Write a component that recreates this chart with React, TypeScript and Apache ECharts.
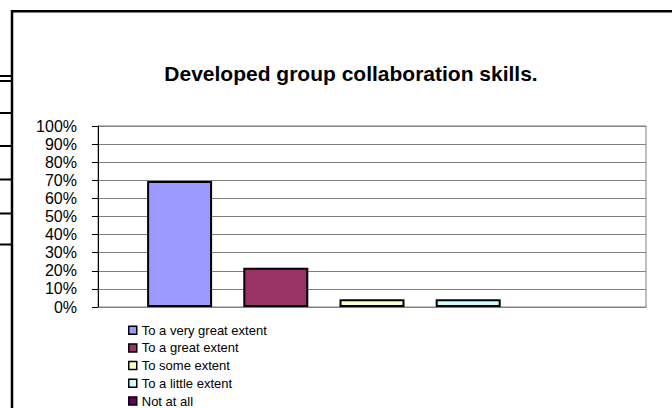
import React, { useEffect, useRef } from "react";
import * as echarts from "echarts";

const titleText = "Developed group collaboration skills.";
const seriesNames = [
  "To a very great extent",
  "To a great extent",
  "To some extent",
  "To a little extent",
  "Not at all",
];
const seriesValues = [69.6, 21.7, 4.3, 4.3, 0];
const seriesColors = ["#9999FF", "#993366", "#FFFFCC", "#CCFFFF", "#660066"];
const categories = ["Developed group collaboration skills"];
const stubYs = [76, 81, 113, 146, 179.5, 213.5, 244.5];

const FONT = 'Arial, "Liberation Sans", sans-serif';

export default function App() {
  const ref = useRef<HTMLDivElement>(null);
  useEffect(() => {
    document.body.style.margin = "0";
    const chart = echarts.init(ref.current!, null, { renderer: "svg" });
    const frame: any[] = [
      {
        type: "line",
        shape: { x1: 11, y1: 11.2, x2: 672, y2: 11.2 },
        style: { stroke: "#000", lineWidth: 2.5 },
      },
      {
        type: "line",
        shape: { x1: 12, y1: 10, x2: 12, y2: 408 },
        style: { stroke: "#000", lineWidth: 2.5 },
      },
      ...stubYs.map((y) => ({
        type: "line",
        shape: { x1: 0, y1: y, x2: 12, y2: y },
        style: { stroke: "#000", lineWidth: 2 },
      })),
      {
        type: "text",
        x: 351,
        y: 73,
        style: {
          text: titleText,
          font: `bold 21px ${FONT}`,
          fill: "#000",
          align: "center",
          verticalAlign: "middle",
        },
      },
    ];
    chart.setOption({
      animation: false,
      backgroundColor: "#fff",
      graphic: frame,
      grid: {
        left: 98,
        top: 126,
        right: 26,
        bottom: 101,
        show: true,
        borderColor: "#808080",
        borderWidth: 1,
        containLabel: false,
      },
      legend: {
        orient: "vertical",
        left: 128,
        top: 323.2,
        height: 150,
        padding: 0,
        itemWidth: 8,
        itemHeight: 8,
        itemGap: 3.7,
        itemTextGap: 1,
        icon: "rect",
        data: seriesNames,
        itemStyle: { borderColor: "#000", borderWidth: 1.5 },
        textStyle: { fontFamily: FONT, fontSize: 13, color: "#000", lineHeight: 14 },
      },
      xAxis: {
        type: "category",
        data: categories,
        axisLabel: { show: false },
        axisTick: { show: false },
        axisLine: { show: true, lineStyle: { color: "#808080", width: 1 } },
        splitLine: { show: false },
      },
      yAxis: {
        type: "value",
        min: 0,
        max: 100,
        interval: 10,
        axisLine: { show: true, lineStyle: { color: "#000", width: 1 } },
        axisTick: { show: true, length: 6, lineStyle: { color: "#000" } },
        axisLabel: {
          formatter: "{value}%",
          fontFamily: FONT,
          fontSize: 16,
          color: "#000",
          margin: 21,
        },
        splitLine: { show: true, lineStyle: { color: "#808080", width: 1 } },
      },
      series: seriesNames.map((name, i) => ({
        name,
        type: "bar",
        data: [seriesValues[i]],
        barWidth: 65,
        barGap: "48%",
        itemStyle: {
          color: seriesColors[i],
          borderColor: "#000",
          borderWidth: seriesValues[i] > 0 ? 2 : 0,
        },
      })),
    });
    return () => chart.dispose();
  }, []);
  return (
    <div
      ref={ref}
      style={{ position: "absolute", left: 0, top: 0, width: 672, height: 408 }}
    />
  );
}
